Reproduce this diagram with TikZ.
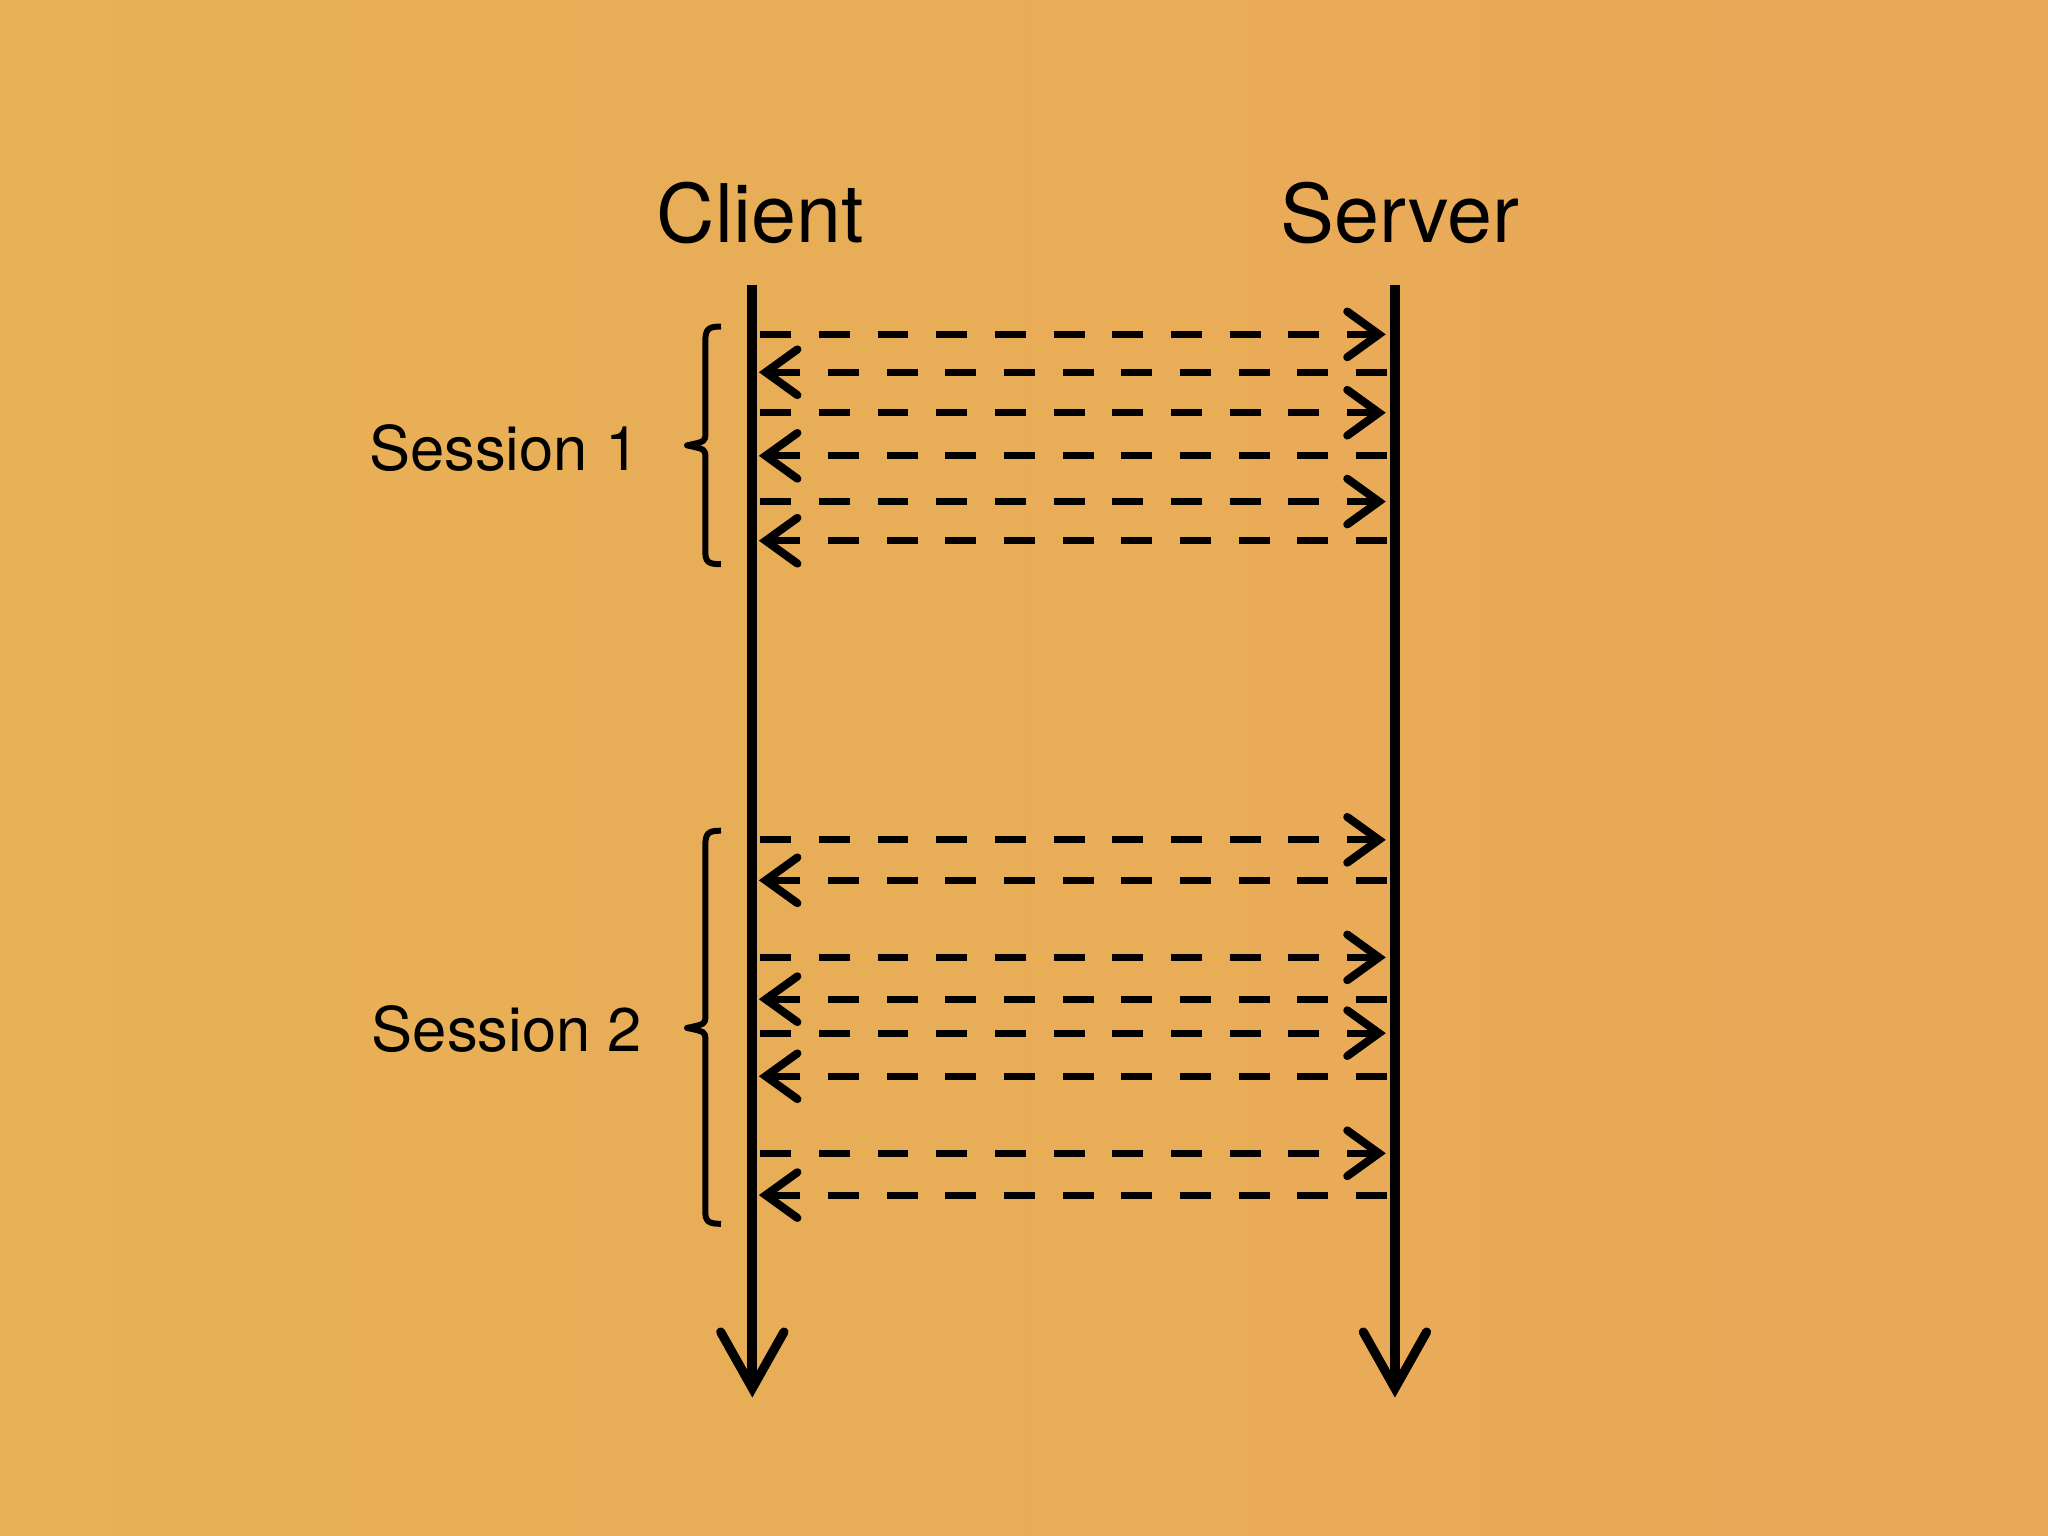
\documentclass[tikz,border=0pt]{standalone}
\usepackage{fontspec}
\setmainfont{TeX Gyre Heros}
\usetikzlibrary{arrows.meta}
\definecolor{bgA}{HTML}{E8B156}
\definecolor{bgB}{HTML}{E9A858}
\tikzset{
  life/.style={line width=2.8pt,-{Straight Barb[length=16pt,width=18pt,line width=2.6pt,line cap=round]}},
  msg/.style={line width=2pt,dash pattern=on 8.8pt off 7.9pt,-{Straight Barb[length=9pt,width=13pt,line width=2.3pt,line cap=round]}},
  brc/.style={line width=1.7pt,line join=round},
  lbl/.style={font=\fontsize{17.5}{21}\selectfont,inner sep=0pt},
  head/.style={font=\fontsize{23}{27}\selectfont}
}
\begin{document}
\begin{tikzpicture}[x=0.013061cm,y=-0.013061cm]
\shade[left color=bgA,right color=bgB] (0,0) rectangle (1568,1176);
\useasboundingbox (0,0) rectangle (1568,1176);
\node[head] (client) at (582,163) {Client};
\node[head] (server) at (1072,163) {Server};
\coordinate (ctop) at (576,218); \coordinate (cbot) at (576,1070);
\coordinate (stop) at (1068,218); \coordinate (sbot) at (1068,1070);
\draw[life] (ctop) -- (cbot);
\draw[life] (stop) -- (sbot);
\foreach \y in {256,316,384,643,733,791,883}{
  \coordinate (a\y) at (582,\y); \coordinate (b\y) at (1061,\y);
  \draw[msg] (a\y) -- (b\y);}
\foreach \y in {285,349,414,674,765,824,915}{
  \coordinate (a\y) at (1062,\y); \coordinate (b\y) at (581,\y);
  \draw[msg] (a\y) -- (b\y);}
\coordinate (br1a) at (552,250); \coordinate (br1b) at (552,432);
\coordinate (br2a) at (552,636); \coordinate (br2b) at (552,937);
\draw[brc] (br1a) .. controls (542,250) and (540,252) .. (540,262) -- (540,332)
  .. controls (540,338) .. (526,341) .. controls (540,344) .. (540,350) -- (540,422)
  .. controls (540,430) and (542,432) .. (br1b);
\draw[brc] (br2a) .. controls (542,636) and (540,638) .. (540,648) -- (540,778)
  .. controls (540,784) .. (526,787) .. controls (540,790) .. (540,796) -- (540,927)
  .. controls (540,935) and (542,937) .. (br2b);
\node[lbl,anchor=east] (s1) at (490,343) {Session 1};
\node[lbl,anchor=east] (s2) at (492,788) {Session 2};
\end{tikzpicture}
\end{document}
